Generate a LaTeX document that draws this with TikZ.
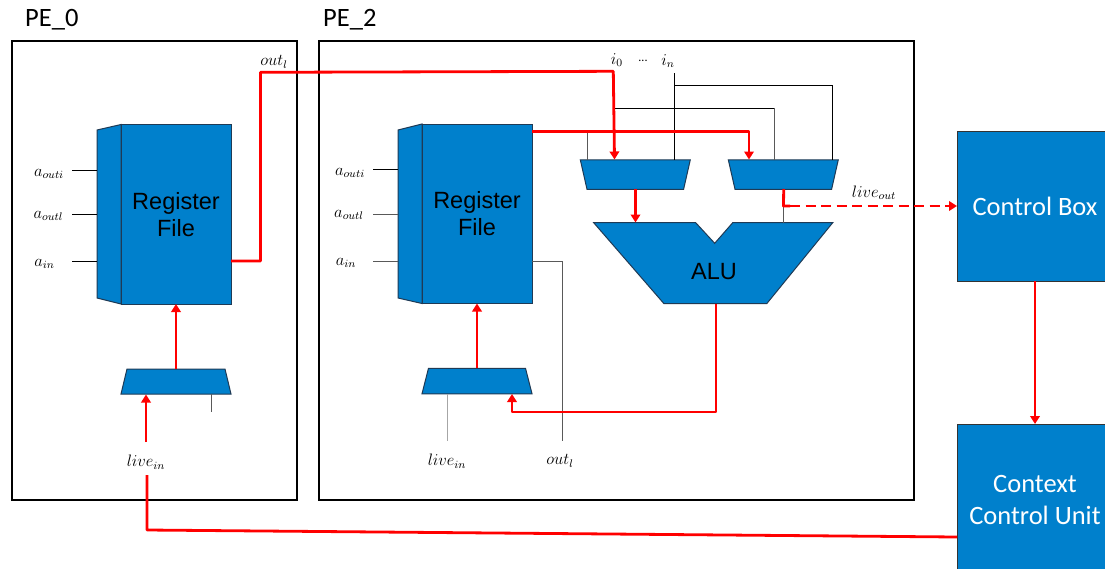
\documentclass[tikz,border=0pt]{standalone}
\usepackage{graphicx}
\usepackage{fontspec}
\setmainfont{Carlito}
\newfontfamily\arialf{Liberation Sans}
\usetikzlibrary{arrows.meta,calc}
\definecolor{blk}{HTML}{0080CC}
\definecolor{edgeblue}{HTML}{1F3A55}
\newcommand{\mlab}[1]{\scalebox{1.38}{$#1$}}
\tikzset{
  peframe/.style={draw=black,line width=2.8pt,fill=white},
  blue shape/.style={draw=edgeblue,line width=1pt,fill=blk},
  boxnode/.style={draw=black!80,line width=1pt,fill=blk,inner sep=0pt,outer sep=0pt,align=center},
  ghost/.style={inner sep=0pt,outer sep=0pt},
  wire/.style={draw=black,line width=1pt},
  graywire/.style={draw=black!65,line width=1pt},
  pale/.style={draw=black!35,line width=1pt},
  redline/.style={draw=red,line width=2.8pt,line join=round},
  redarrow/.style={redline,-{Triangle[width=9.5pt,length=8pt]}},
  reddash/.style={redline,line width=2.8pt,dash pattern=on 10pt off 5.5pt,-{Triangle[width=9.5pt,length=8pt]}},
  rftext/.style={font=\arialf\fontsize{23.5}{27}\selectfont,align=center,text=black},
  whitetext/.style={text=white,font=\fontsize{26.5}{32}\selectfont},
  petext/.style={font=\fontsize{26.5}{30}\selectfont,text=black},
  mathlabel/.style={font=\fontsize{12}{16}\selectfont,text=black,inner sep=0pt},
}
\begin{document}
\begin{tikzpicture}[x=1pt,y=-1pt]
\useasboundingbox (0,0) rectangle (1105,568);
\clip (0,0) rectangle (1105,568);
\fill[white] (0,0) rectangle (1105,568);

% frames
\node[peframe,minimum width=285pt,minimum height=459pt,inner sep=0pt] (pe0) at (154.5,270.5) {};
\node[peframe,minimum width=595pt,minimum height=459pt,inner sep=0pt] (pe2) at (616.5,270.5) {};
\node[petext,anchor=west,inner sep=0pt] (pe0t) at (25,20) {PE\_0};
\node[petext,anchor=west,inner sep=0pt] (pe2t) at (323,20) {PE\_2};

% outer blocks
\node[boxnode,minimum width=156pt,minimum height=150pt,whitetext] (cbox) at (1035,206) {Control Box};
\node[boxnode,minimum width=156pt,minimum height=152pt,whitetext] (ccu) at (1035,500) {Context\\Control Unit};

% register file PE_0
\draw[blue shape] (97,130) -- (121,124.5) -- (121,304) -- (97,298) -- cycle;
\node[boxnode,draw=edgeblue,minimum width=110pt,minimum height=179.5pt,rftext] (rf0) at (176,214.25) {Register\\File};
% mux PE_0
\node[ghost,minimum width=110pt,minimum height=25pt] (mux0) at (176,381.5) {};
\draw[blue shape] ($(mux0.north west)+(6,0)$) -- ($(mux0.north east)+(-6,0)$) -- (mux0.south east) -- (mux0.south west) -- cycle;

% register file PE_2
\draw[blue shape] (398,130) -- (422,124) -- (422,303.5) -- (398,298) -- cycle;
\node[boxnode,draw=edgeblue,minimum width=110pt,minimum height=179.5pt,rftext] (rf2) at (477,213.75) {Register\\File};
% mux PE_2 lower
\node[ghost,minimum width=110pt,minimum height=25.5pt] (mux2) at (477,381) {};
\draw[blue shape] ($(mux2.north west)+(6.5,0)$) -- ($(mux2.north east)+(-6.5,0)$) -- (mux2.south east) -- (mux2.south west) -- cycle;
% upper muxes
\node[ghost,minimum width=110pt,minimum height=29.5pt] (muxa) at (635.3,174.5) {};
\draw[blue shape] (muxa.north west) -- (muxa.north east) -- ($(muxa.south east)+(-6.7,0)$) -- ($(muxa.south west)+(6.7,0)$) -- cycle;
\node[ghost,minimum width=110pt,minimum height=29.5pt] (muxb) at (783.3,174.5) {};
\draw[blue shape] (muxb.north west) -- (muxb.north east) -- ($(muxb.south east)+(-6.7,0)$) -- ($(muxb.south west)+(6.7,0)$) -- cycle;
% ALU
\draw[blue shape] (593.7,222.7) -- (695.7,222.7) -- (714.7,243.3) -- (732.7,222.7) -- (832.7,222.7) -- (766.7,303.7) -- (664,303.7) -- cycle;
\node[rftext] (alut) at (714,272) {ALU};

% labels
\node[mathlabel] (l0a) at (49,174) {\mlab{a_{outi}}};
\node[mathlabel] (l0b) at (48.5,216) {\mlab{a_{outl}}};
\node[mathlabel] (l0c) at (44.5,264) {\mlab{a_{in}}};
\node[mathlabel] (l2a) at (350,173) {\mlab{a_{outi}}};
\node[mathlabel] (l2b) at (349,215) {\mlab{a_{outl}}};
\node[mathlabel] (l2c) at (346,263) {\mlab{a_{in}}};
\node[mathlabel] (outl0) at (274,62) {\mlab{out_l}};
\node[mathlabel] (live0) at (146,462) {\mlab{live_{in}}};
\node[mathlabel] (live2) at (447,461) {\mlab{live_{in}}};
\node[mathlabel] (outl2) at (560,461) {\mlab{out_l}};
\node[mathlabel] (i0) at (617,60) {\mlab{i_0}};
\node[mathlabel] (dots) at (643,61) {...};
\node[mathlabel] (in) at (668,61) {\mlab{i_n}};
\node[mathlabel] (liveout) at (874,193) {\mlab{live_{out}}};

% named ports
\coordinate (p0a) at (72,170);  \coordinate (s0a) at (97,170);
\coordinate (p0b) at (72,214.5);\coordinate (s0b) at (97,214.5);
\coordinate (p0c) at (72,261);  \coordinate (s0c) at (97,261);
\coordinate (p2a) at (373,169); \coordinate (s2a) at (398,169);
\coordinate (p2b) at (373,214); \coordinate (s2b) at (398,214);
\coordinate (p2c) at (373,261); \coordinate (s2c) at (398,261);

% thin wires
\draw[wire] (p0a) -- (s0a);
\draw[wire] (p0b) -- (s0b);
\draw[wire] (p0c) -- (s0c);
\draw[wire] (p2a) -- (s2a);
\draw[graywire] (p2b) -- (s2b);
\draw[graywire] (p2c) -- (s2c);
\coordinate (mux0stub) at (211,394);
\coordinate (mux0end) at (211,412);
\draw[graywire] (mux0stub) -- (mux0end);
\coordinate (mux2l) at (447,394);
\coordinate (mux2lend) at (447,441);
\draw[pale] (mux2l) -- (mux2lend);
\coordinate (rf2o) at (532,261);
\coordinate (rf2c) at (562,261);
\coordinate (rf2e) at (562,441);
\draw[graywire] (rf2o) -- (rf2c) -- (rf2e);
\coordinate (stubt) at (587,132);
\coordinate (stubb) at (587,160);
\draw[graywire] (stubt) -- (stubb);
\coordinate (fbl) at (614,108.3);
\coordinate (fbc) at (774,108.3);
\coordinate (fbb) at (774,160);
\draw[wire] (fbl) -- (fbc);
\draw[graywire] (fbc) -- (fbb);
\coordinate (int) at (674.3,73);
\coordinate (inb) at (674.3,160);
\coordinate (inj) at (674.3,85.3);
\coordinate (inc) at (832.3,85.3);
\coordinate (ine) at (832.3,160);
\draw[wire] (int) -- (inb);
\draw[wire] (inj) -- (inc) -- (ine);
\coordinate (bj) at (783.5,206);
\coordinate (bk) at (783.5,222.7);
\draw[graywire] (bj) -- (bk);

% red wires
\coordinate (r0o) at (231,261);
\coordinate (r0c) at (260.5,261);
\coordinate (r0t) at (260.5,72.3);
\coordinate (r0r) at (613.3,71.3);
\coordinate (r0e) at (614.5,159.5);
\draw[redarrow] (r0o) -- (r0c) -- (r0t) -- (r0r) -- (r0e);
\coordinate (r2o) at (532,131.7);
\coordinate (r2c) at (749,131.7);
\coordinate (r2e) at (749,159.5);
\draw[redarrow] (r2o) -- (r2c) -- (r2e);
\coordinate (mao) at (635.5,189);
\coordinate (mae) at (635.5,222.5);
\draw[redarrow] (mao) -- (mae);
\coordinate (mbo) at (783.7,189);
\coordinate (dashs) at (790,206);
\draw[redline] (mbo) -- (bj) -- (dashs);
\coordinate (dashe) at (cbox.west |- bj);
\draw[reddash] (dashs) -- (dashe);
\coordinate (aluo) at (716,304);
\coordinate (aluc) at (716,412);
\coordinate (m2c) at (512,412);
\coordinate (m2e) at (512,394);
\draw[redarrow] (aluo) -- (aluc) -- (m2c) -- (m2e);
\draw[redarrow] (mux2.north) -- (rf2.south);
\draw[redarrow] (mux0.north) -- (rf0.south);
\coordinate (liv0s) at (146,442);
\coordinate (liv0e) at (146,394.5);
\draw[redarrow] (liv0s) -- (liv0e);
\coordinate (liv0o) at (147,475);
\coordinate (liv0c) at (147,530);
\coordinate (ccul) at (957,537);
\draw[redline] (liv0o) -- (liv0c) -- (ccul);
\draw[redarrow] (cbox.south) -- (ccu.north);
\end{tikzpicture}
\end{document}
